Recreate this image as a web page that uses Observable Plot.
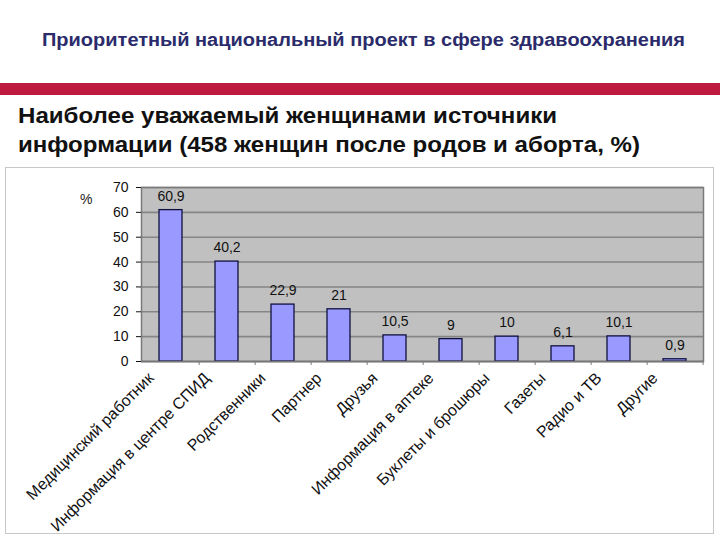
<!DOCTYPE html>
<html><head><meta charset="utf-8">
<script src="https://cdn.jsdelivr.net/npm/d3@7"></script>
<script src="https://cdn.jsdelivr.net/npm/@observablehq/plot@0.6"></script>
<style>
body{margin:0;background:#fff;font-family:"Liberation Sans",Arial,sans-serif;}
#page{position:relative;width:720px;height:540px;overflow:hidden;}
#top{position:absolute;left:42px;top:30px;font-size:18px;color:#2b2b6b;font-weight:bold;white-space:nowrap;transform-origin:0 0;}
#red{position:absolute;left:0;top:83px;width:720px;height:12px;background:#be1a40;}
#head{position:absolute;left:18px;top:101px;font-size:22.5px;line-height:29px;color:#111;font-weight:bold;white-space:nowrap;transform-origin:0 0;}
#frame{position:absolute;left:5px;top:167px;width:709px;height:367px;border:1px solid #c8c8c8;box-sizing:border-box;}
#pct{position:absolute;left:80px;top:191px;font-size:14px;color:#222;}
#chart{position:absolute;left:0;top:167px;}
</style></head>
<body><div id="page">
<div id="top">Приоритетный национальный проект в сфере здравоохранения</div>
<div id="red"></div>
<div id="head">Наиболее уважаемый женщинами источники<br>информации (458 женщин после родов и аборта, %)</div>
<div id="frame"></div>
<div id="pct">%</div>
<div id="chart"></div>
</div>
<script>
const categories = ["Медицинский работник","Информация в центре СПИД","Родственники","Партнер","Друзья","Информация в аптеке","Буклеты и брошюры","Газеты","Радио и ТВ","Другие"];
const values = [60.9, 40.2, 22.9, 21, 10.5, 9, 10, 6.1, 10.1, 0.9];
const valueLabels = ["60,9","40,2","22,9","21","10,5","9","10","6,1","10,1","0,9"];
const yTicks = [0,10,20,30,40,50,60,70];

const data = categories.map((c,i)=>({cat:c, v:values[i], lab:valueLabels[i]}));

const chart = Plot.plot({
  width: 720, height: 368,
  marginLeft: 141, marginRight: 17, marginTop: 20, marginBottom: 174,
  style: {fontFamily: '"Liberation Sans", Arial, sans-serif', fontSize: "14px", color: "#111", background: "transparent"},
  x: {domain: categories, paddingInner: 0.59, paddingOuter: 0.295, label: null},
  y: {domain: [0,70], label: null},
  marks: [
    Plot.frame({fill: "#c0c0c0", stroke: "none"}),
    Plot.ruleY(yTicks, {stroke: "#858585", strokeWidth: 1.6}),
    Plot.frame({stroke: "#7a7a7a", strokeWidth: 1.5}),
    Plot.axisY(yTicks, {tickSize: 5, tickPadding: 8, fontSize: 14, tickFormat: d=>String(d), label: null}),
    Plot.axisX({tickRotate: -45, tickSize: 0, tickPadding: 4, fontSize: 16, dx: -20, dy: 10, label: null}),
    Plot.barY(data, {x: "cat", y: "v", fill: "#9999ff", stroke: "#101040", strokeWidth: 1.3}),
    Plot.text(data, {x: "cat", y: "v", text: "lab", dy: -14, fontSize: 14, fill: "#111"}),
    Plot.ruleX(categories, {x: d=>d, y1: 0, y2: -1.6, dx: 28.1, stroke: "#777", strokeWidth: 1}),
    Plot.ruleY([0], {stroke: "#777", strokeWidth: 1.5})
  ]
});
document.getElementById("chart").appendChild(chart);

function fitWidth(id, w){
  const el = document.getElementById(id);
  const r = el.getBoundingClientRect();
  el.style.transform = `scaleX(${w / r.width})`;
}
fitWidth("top", 643);
fitWidth("head", 622);
</script>
</body></html>
